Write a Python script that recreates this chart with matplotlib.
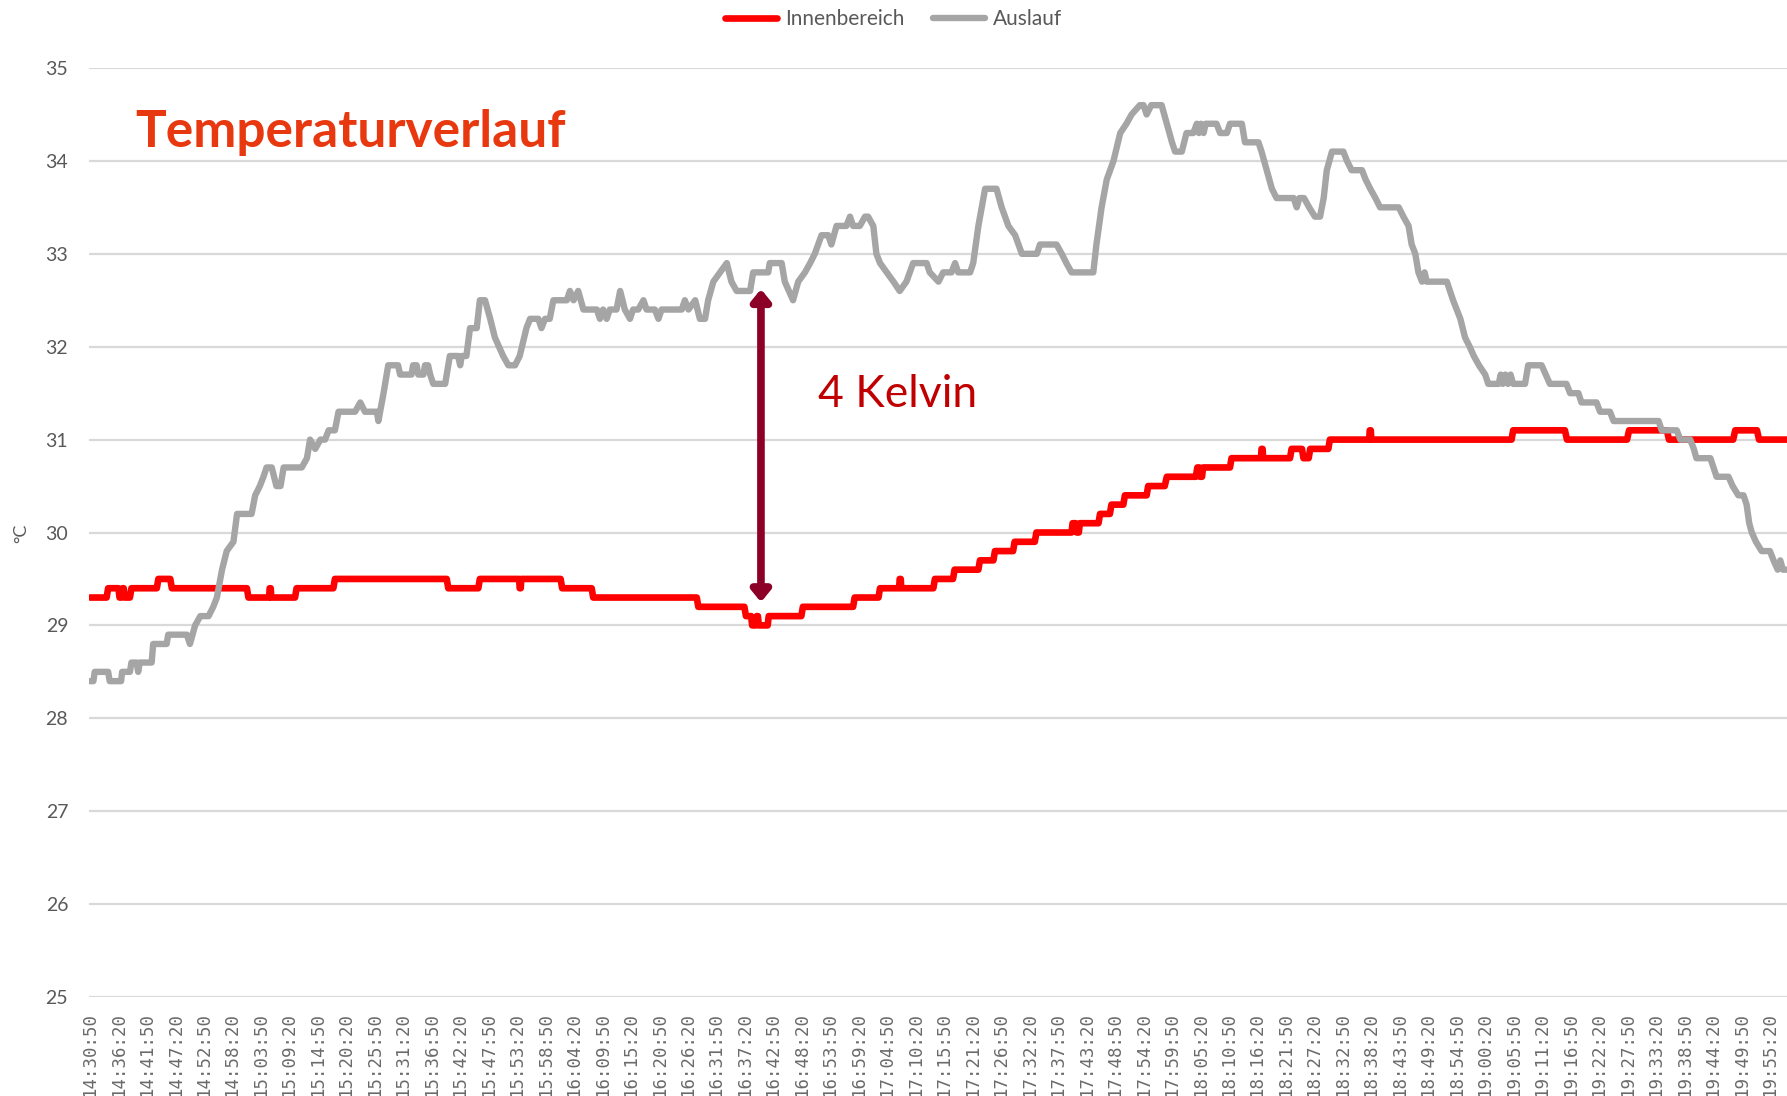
import matplotlib.pyplot as plt
import numpy as np

# Zeitachse: Minuten seit 14:30:50, Werte in °C
tick_labels = ['14:30:50', '14:36:20', '14:41:50', '14:47:20', '14:52:50', '14:58:20',
               '15:03:50', '15:09:20', '15:14:50', '15:20:20', '15:25:50', '15:31:20',
               '15:36:50', '15:42:20', '15:47:50', '15:53:20', '15:58:50', '16:04:20',
               '16:09:50', '16:15:20', '16:20:50', '16:26:20', '16:31:50', '16:37:20',
               '16:42:50', '16:48:20', '16:53:50', '16:59:20', '17:04:50', '17:10:20',
               '17:15:50', '17:21:20', '17:26:50', '17:32:20', '17:37:50', '17:43:20',
               '17:48:50', '17:54:20', '17:59:50', '18:05:20', '18:10:50', '18:16:20',
               '18:21:50', '18:27:20', '18:32:50', '18:38:20', '18:43:50', '18:49:20',
               '18:54:50', '19:00:20', '19:05:50', '19:11:20', '19:16:50', '19:22:20',
               '19:27:50', '19:33:20', '19:38:50', '19:44:20', '19:49:50', '19:55:20']
tick_step = 5.5  # minutes between labels

innen_t = [0, 3.2, 3.5, 5.5, 5.7, 6.1, 6.3, 6.5, 6.7, 7.7, 8.0, 12.9, 13.2, 15.5,
           15.8, 30.3, 30.6, 34.6, 34.7, 34.9, 35.0, 39.6, 39.9, 47.0, 47.3, 68.9,
           69.2, 75.0, 75.3, 82.9, 83.0, 83.2, 83.3, 90.9, 91.2, 96.9, 97.2, 117.2,
           117.5, 126.4, 126.7, 127.7, 127.9, 128.6, 128.8, 129.0, 129.2, 130.9,
           131.1, 137.4, 137.7, 147.4, 147.7, 152.3, 152.6, 156.3, 156.4, 156.6,
           156.7, 162.9, 163.2, 166.7, 167.0, 171.6, 171.9, 174.5, 174.8, 178.3,
           178.6, 182.5, 182.8, 189.6, 189.8, 190.4, 190.6, 191.0, 191.2, 194.8,
           195.1, 197.0, 197.3, 199.6, 199.9, 204.1, 204.4, 207.6, 208.0, 213.6,
           213.9, 214.3, 214.4, 214.8, 215.0, 220.2, 220.5, 226.2, 226.3, 226.5,
           226.6, 231.8, 232.1, 234.1, 234.4, 235.4, 235.7, 239.2, 239.5, 247.1,
           247.2, 247.4, 247.5, 274.6, 274.9, 284.9, 285.3, 296.9, 297.3, 304.6,
           305.0, 317.4, 317.8, 322.0, 322.4, 328.0]
innen_v = [29.3, 29.3, 29.4, 29.4, 29.3, 29.3, 29.4, 29.4, 29.3, 29.3, 29.4, 29.4, 29.5, 29.5,
           29.4, 29.4, 29.3, 29.3, 29.4, 29.4, 29.3, 29.3, 29.4, 29.4, 29.5, 29.5,
           29.4, 29.4, 29.5, 29.5, 29.4, 29.4, 29.5, 29.5, 29.4, 29.4, 29.3, 29.3,
           29.2, 29.2, 29.1, 29.1, 29.0, 29.0, 29.1, 29.1, 29.0, 29.0,
           29.1, 29.1, 29.2, 29.2, 29.3, 29.3, 29.4, 29.4, 29.5, 29.5,
           29.4, 29.4, 29.5, 29.5, 29.6, 29.6, 29.7, 29.7, 29.8, 29.8,
           29.9, 29.9, 30.0, 30.0, 30.1, 30.1, 30.0, 30.0, 30.1, 30.1,
           30.2, 30.2, 30.3, 30.3, 30.4, 30.4, 30.5, 30.5, 30.6, 30.6,
           30.7, 30.7, 30.6, 30.6, 30.7, 30.7, 30.8, 30.8, 30.9, 30.9,
           30.8, 30.8, 30.9, 30.9, 30.8, 30.8, 30.9, 30.9, 31.0, 31.0,
           31.1, 31.1, 31.0, 31.0, 31.1, 31.1, 31.0, 31.0, 31.1, 31.1,
           31.0, 31.0, 31.1, 31.1, 31.0, 31.0]

auslauf_t = [0, 0.65, 0.9, 3.5, 3.8, 6.0, 6.2, 7.7, 8.0, 9.0, 9.3, 9.6, 11.9, 12.2, 14.8,
             15.1, 18.7, 19.3, 19.8, 20.3, 21.3, 22.9, 23.8, 24.5, 25.5, 26.4, 27.7, 28.4,
             31.2, 31.9, 32.8, 33.5, 34.1, 35.1, 36.0, 36.8, 37.4, 40.9, 41.9, 42.5, 43.5,
             44.5, 45.4, 46.1, 47.3, 48.0, 51.2, 52.2, 53.1, 55.4, 55.7, 56.7, 57.6, 59.5,
             59.9, 62.1, 62.4, 63.1, 63.4, 64.4, 64.7, 65.3, 65.7, 66.3, 68.6, 69.5, 71.1,
             71.5, 71.8, 72.7, 73.4, 74.7, 75.3, 76.3, 77.3, 78.2, 79.8, 80.8, 82.1, 83.0,
             84.3, 85.0, 86.6, 87.2, 87.9, 88.8, 89.5, 92.1, 92.7, 93.4, 94.3, 95.3, 97.9,
             98.5, 99.1, 99.8, 100.4, 101.7, 102.4, 103.3, 104.3, 104.9, 105.9, 106.9,
             107.5, 109.1, 109.8, 110.4, 114.3, 114.9, 115.6, 116.9, 117.8, 118.8, 119.4,
             120.4, 121.7, 123.0, 123.9, 124.9, 127.5, 128.1, 131.0, 131.3, 133.6, 134.2,
             135.8, 136.8, 138.1, 139.1, 140.0, 141.3, 142.6, 143.2, 144.2, 146.1, 146.8,
             147.4, 148.7, 149.7, 150.3, 151.3, 151.9, 152.6, 153.9, 155.2, 156.4, 157.7,
             159.0, 161.6, 162.2, 163.9, 164.8, 166.4, 167.1, 167.7, 170.0, 170.6, 171.6,
             172.9, 175.1, 176.1, 177.4, 178.7, 180.0, 182.9, 183.5, 186.7, 187.7, 188.6,
             189.6, 193.8, 194.4, 195.4, 196.4, 197.7, 199.0, 200.2, 201.2, 202.8, 203.5,
             204.1, 205.0, 207.0, 208.0, 209.0, 209.6, 210.9, 211.8, 213.1, 213.8, 214.2,
             214.6, 215.1, 215.5, 217.6, 218.3, 219.6, 220.2, 222.5, 223.1, 225.7, 226.3,
             227.3, 228.3, 229.2, 230.2, 232.5, 233.1, 233.6, 234.5, 235.5, 236.6, 237.6,
             238.3, 238.9, 239.9, 242.1, 242.8, 243.7, 245.7, 246.4, 247.3, 248.3, 249.2,
             252.8, 253.7, 254.7, 255.3, 256.0, 256.6, 257.3, 257.8, 258.2, 262.1, 262.7,
             263.3, 264.0, 264.7, 265.6, 266.5, 267.3, 268.3, 269.5, 270.1, 272.1, 272.5,
             272.9, 273.4, 273.9, 274.4, 274.9, 277.2, 277.8, 280.4, 281.2, 282.0, 285.2,
             285.9, 287.5, 288.1, 291.0, 291.7, 293.6, 294.3, 303.0, 303.6, 306.5, 307.2,
             309.1, 309.8, 310.3, 313.0, 313.6, 314.2, 316.5, 317.3, 318.4, 319.4, 320.0,
             320.5, 321.0, 321.8, 322.9, 324.5, 325.2, 326.0, 326.5, 327.0, 328.0]
auslauf_v = [28.4, 28.4, 28.5, 28.5, 28.4, 28.4, 28.5, 28.5, 28.6, 28.6, 28.5, 28.6, 28.6, 28.8, 28.8,
             28.9, 28.9, 28.8, 28.9, 29.0, 29.1, 29.1, 29.2, 29.3, 29.6, 29.8, 29.9, 30.2,
             30.2, 30.4, 30.5, 30.6, 30.7, 30.7, 30.5, 30.5, 30.7, 30.7, 30.8, 31.0, 30.9,
             31.0, 31.0, 31.1, 31.1, 31.3, 31.3, 31.4, 31.3, 31.3, 31.2, 31.5, 31.8, 31.8,
             31.7, 31.7, 31.8, 31.8, 31.7, 31.7, 31.8, 31.8, 31.7, 31.6, 31.6, 31.9, 31.9,
             31.8, 31.9, 31.9, 32.2, 32.2, 32.5, 32.5, 32.3, 32.1, 31.9, 31.8, 31.8, 31.9,
             32.2, 32.3, 32.3, 32.2, 32.3, 32.3, 32.5, 32.5, 32.6, 32.5, 32.6, 32.4, 32.4,
             32.3, 32.4, 32.3, 32.4, 32.4, 32.6, 32.4, 32.3, 32.4, 32.4, 32.5,
             32.4, 32.4, 32.3, 32.4, 32.4, 32.5, 32.4, 32.5, 32.3, 32.3, 32.5,
             32.7, 32.8, 32.9, 32.7, 32.6, 32.6, 32.8, 32.8, 32.9, 32.9, 32.7,
             32.5, 32.7, 32.8, 32.9, 33.0, 33.2, 33.2, 33.1, 33.3, 33.3, 33.4,
             33.3, 33.3, 33.4, 33.4, 33.3, 33.0, 32.9, 32.8, 32.7, 32.6, 32.7,
             32.9, 32.9, 32.8, 32.7, 32.8, 32.8, 32.9, 32.8, 32.8, 32.9, 33.3,
             33.7, 33.7, 33.5, 33.3, 33.2, 33.0, 33.0, 33.1, 33.1, 33.0, 32.9,
             32.8, 32.8, 33.1, 33.5, 33.8, 34.0, 34.3, 34.4, 34.5, 34.6, 34.6,
             34.5, 34.6, 34.6, 34.4, 34.2, 34.1, 34.1, 34.3, 34.3, 34.4, 34.3,
             34.4, 34.3, 34.4, 34.4, 34.3, 34.3, 34.4, 34.4, 34.2, 34.2, 34.1,
             33.9, 33.7, 33.6, 33.6, 33.6, 33.5, 33.6, 33.6, 33.5, 33.4, 33.4,
             33.6, 33.9, 34.1, 34.1, 34.0, 33.9, 33.9, 33.8, 33.7, 33.6, 33.5,
             33.5, 33.4, 33.3, 33.1, 33.0, 32.8, 32.7, 32.8, 32.7, 32.7, 32.6,
             32.5, 32.4, 32.3, 32.1, 32.0, 31.9, 31.8, 31.7, 31.6, 31.6, 31.7,
             31.6, 31.7, 31.6, 31.7, 31.6, 31.6, 31.8, 31.8, 31.7, 31.6, 31.6,
             31.5, 31.5, 31.4, 31.4, 31.3, 31.3, 31.2, 31.2, 31.1, 31.1, 31.0,
             31.0, 30.9, 30.8, 30.8, 30.7, 30.6, 30.6, 30.5, 30.4, 30.4, 30.3,
             30.1, 30.0, 29.9, 29.8, 29.8, 29.7, 29.6, 29.7, 29.6, 29.6]

# Pfeil "4 Kelvin"
arrow_t = 129.6
arrow_top = 32.62
arrow_bottom = 29.25

# Layout
W, H = 1787, 1096
fig = plt.figure(figsize=(W / 100, H / 100), dpi=100)
ax = fig.add_axes([89 / W, 1 - 997 / H, 1 - 89 / W, (997 - 68) / H])

grey_txt = '#595959'
ax.plot(innen_t, innen_v, color='#FF0000', lw=4.8, solid_joinstyle='round',
        solid_capstyle='round', label='Innenbereich', zorder=3)
ax.plot(auslauf_t, auslauf_v, color='#A5A5A5', lw=4.6, solid_joinstyle='round',
        solid_capstyle='round', label='Auslauf', zorder=4)

ax.set_xlim(-0.2, 327.8)
ax.set_ylim(25, 35)
ax.set_yticks(np.arange(25, 36, 1))
ax.set_xticks([i * tick_step for i in range(len(tick_labels))])
ax.set_xticklabels(tick_labels, rotation=90, family='DejaVu Sans Mono',
                   fontsize=12.5, color='#6a6a6a')
ax.tick_params(axis='x', length=0, pad=11)
ax.tick_params(axis='y', length=0, pad=15, labelsize=14, labelcolor=grey_txt)
for lab in ax.get_yticklabels():
    lab.set_family('Lato')
ax.grid(axis='y', color='#D9D9D9', lw=1.6)
ax.set_axisbelow(True)
for s in ax.spines.values():
    s.set_visible(False)

# Pfeil und Beschriftung
ax.annotate('', xy=(arrow_t, arrow_top), xytext=(arrow_t, arrow_bottom),
            arrowprops=dict(arrowstyle='<|-|>,head_length=0.55,head_width=0.45',
                            color='#8C0028', lw=5.5, shrinkA=0, shrinkB=0,
                            mutation_scale=12), zorder=6)
ax.text(140.6, 31.35, '4 Kelvin', family='Lato', fontsize=32, color='#C00000',
        va='baseline', ha='left')

fig.text(135 / W, 1 - 147 / H, 'Temperaturverlauf', family='Lato', weight='bold',
         fontsize=37, color='#E8380F', va='baseline', ha='left')
fig.text(21 / W, 1 - 533 / H, '°C', rotation=90, family='Lato', fontsize=13,
         color=grey_txt, ha='center', va='center')

fig.legend(loc='center', bbox_to_anchor=(0.5, 1 - 19 / H), ncol=2, frameon=False,
           prop={'family': 'Lato', 'size': 15}, labelcolor=grey_txt,
           handlelength=2.5, handletextpad=0.35, columnspacing=1.4)

fig.savefig('out.png', dpi=100)
